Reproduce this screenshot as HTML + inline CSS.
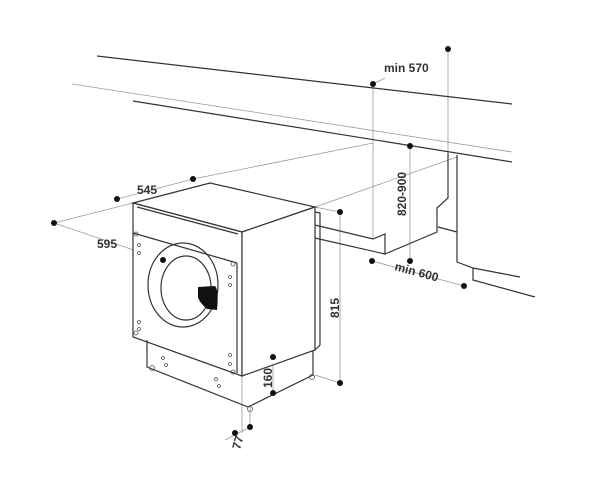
<!DOCTYPE html>
<html><head><style>body{margin:0;background:#fff}svg{display:block}text{font-family:"Liberation Sans",sans-serif;font-weight:bold;font-size:12px;fill:#333}</style></head>
<body><svg width="600" height="479" viewBox="0 0 600 479" xmlns="http://www.w3.org/2000/svg">
<g stroke="#999" stroke-width="0.8" fill="none">
<line x1="72" y1="84" x2="512" y2="152"/>
<line x1="193" y1="179" x2="373" y2="143"/>
<line x1="315" y1="207" x2="457" y2="157"/>
<line x1="54" y1="223" x2="133" y2="203"/>
<line x1="54" y1="223" x2="163" y2="260"/>
<line x1="117" y1="199" x2="193" y2="179"/>
<line x1="373" y1="84" x2="373" y2="239"/>
<line x1="373" y1="84" x2="385" y2="78"/>
<line x1="448" y1="49" x2="448" y2="153"/>
<line x1="410" y1="146" x2="410" y2="261"/>
<line x1="340" y1="212" x2="340" y2="383"/>
<line x1="315" y1="207" x2="340" y2="212"/>
<line x1="315" y1="375" x2="340" y2="383"/>
<line x1="372" y1="261" x2="464" y2="286"/>
<line x1="273" y1="357" x2="273" y2="393"/>
<line x1="242" y1="376" x2="273" y2="357"/>
<line x1="242" y1="376" x2="242" y2="433"/>
<line x1="250" y1="407" x2="250" y2="427"/>
<line x1="225" y1="440" x2="250" y2="427"/>
</g>
<g stroke="#333" stroke-width="1.2" fill="none">
<line x1="97" y1="56" x2="512" y2="104"/>
<line x1="133" y1="101" x2="512" y2="162"/>
<polyline points="448,153 448,198 437,208 437,232 385,254 385,234 373,239 315,225"/>
<polyline points="385,254 315,238"/>
<polyline points="457,155 457,262 473,268 520,277"/>
<polyline points="473,268 473,280 535,297"/>
<line x1="438" y1="227" x2="457" y2="232"/>
<polygon points="133,203 210,183 315,207 242,232" fill="#fff"/>
<polygon points="133,203 242,232 242,376 133,337" fill="#fff"/>
<polygon points="242,232 315,207 315,350 242,376" fill="#fff"/>
<polyline points="315,212 320,213 320,345 315,350"/>
<polyline points="147,340 147,367 248,407 313,375 313,350"/>
<line x1="133" y1="233" x2="237" y2="263"/>
<line x1="137" y1="207" x2="238" y2="234"/>
<line x1="237" y1="263" x2="237" y2="373"/>
<ellipse cx="183" cy="285" rx="35" ry="42"/>
<ellipse cx="186" cy="288" rx="25" ry="32"/>
</g>
<path d="M198,287 L215,286 Q219,290 217,310 L207,309 Q199,302 198,297 Z" fill="#111"/>
<g fill="none" stroke="#555" stroke-width="0.8">
<circle cx="136" cy="234" r="2"/><circle cx="139" cy="245" r="1.5"/><circle cx="139" cy="253" r="1.5"/>
<circle cx="233" cy="264" r="2"/><circle cx="230" cy="277" r="1.5"/><circle cx="230" cy="285" r="1.5"/>
<circle cx="136" cy="333" r="2"/><circle cx="139" cy="322" r="1.5"/><circle cx="139" cy="329" r="1.5"/>
<circle cx="233" cy="372" r="2"/><circle cx="230" cy="355" r="1.5"/><circle cx="230" cy="364" r="1.5"/>
<circle cx="163" cy="358" r="1.5"/><circle cx="166" cy="365" r="1.5"/><circle cx="216" cy="379" r="1.5"/><circle cx="219" cy="386" r="1.5"/>
<circle cx="152" cy="368" r="2.5"/><circle cx="250" cy="409" r="2.5"/><circle cx="312" cy="377" r="2.5"/>
</g>
<g fill="#111">
<circle cx="373" cy="84" r="3"/><circle cx="448" cy="49" r="3"/>
<circle cx="410" cy="146" r="3"/><circle cx="410" cy="261" r="3"/>
<circle cx="372" cy="261" r="3"/><circle cx="464" cy="286" r="3"/>
<circle cx="340" cy="212" r="3"/><circle cx="340" cy="383" r="3"/>
<circle cx="117" cy="199" r="3"/><circle cx="193" cy="179" r="3"/>
<circle cx="54" cy="223" r="3"/><circle cx="163" cy="260" r="3"/>
<circle cx="273" cy="357" r="3"/><circle cx="273" cy="393" r="3"/>
<circle cx="235" cy="433" r="3"/><circle cx="250" cy="427" r="3"/>
</g>
<text x="384" y="72">min 570</text>
<text x="137" y="194">545</text>
<text x="97" y="248">595</text>
<text transform="translate(406,216) rotate(-90)">820-900</text>
<text transform="translate(394,270) rotate(15)">min 600</text>
<text transform="translate(339,318) rotate(-90)">815</text>
<text transform="translate(272,388) rotate(-90)">160</text>
<text transform="translate(240,450) rotate(-75)">77</text>
</svg></body></html>
